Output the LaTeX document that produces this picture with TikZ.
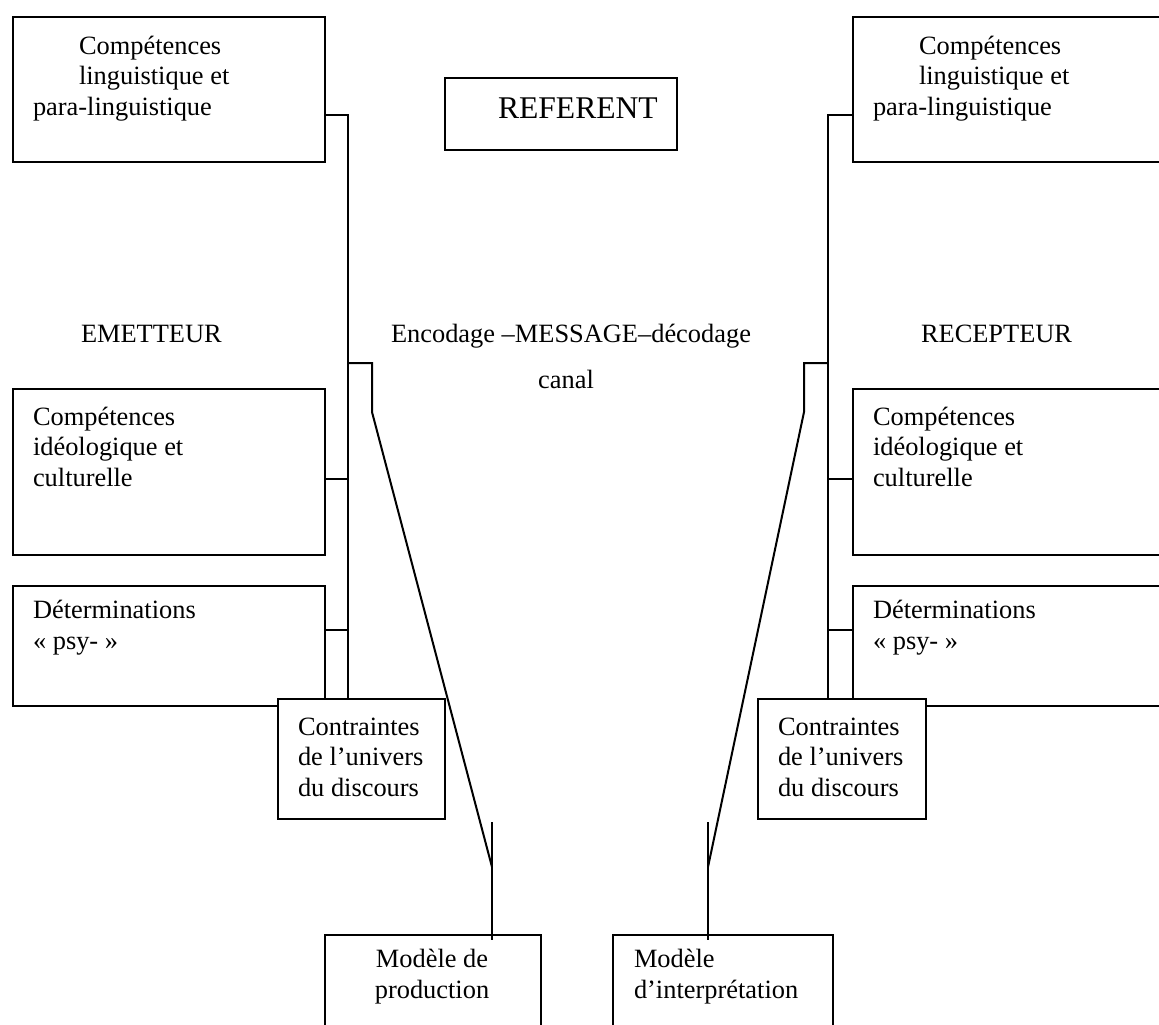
\documentclass[tikz,border=0pt]{standalone}
\usepackage{fontspec}
\setmainfont{Liberation Serif}
\usepackage{tikz}
\usetikzlibrary{calc}

\begin{document}
\begin{tikzpicture}[x=1pt,y=-1pt,line width=2pt]
      \tikzset{cadre/.style={draw,
          fill=white,
          inner sep=0pt,
          anchor=north west},
        texte/.style={inner sep=0pt,
          anchor=base west,
          align=left,
          font=\fontsize{26.4}{30.5}\selectfont}
      }
      \useasboundingbox (0,0) rectangle (1159,1025);
      \clip (0,0) rectangle (1159,1025);

      % emetteur side
      \node [cadre,minimum width=312pt,minimum height=145pt] (compL) at (12,16) {};
      \node [cadre,minimum width=312pt,minimum height=166pt] (ideoL) at (12,388) {};
      \node [cadre,minimum width=312pt,minimum height=120pt] (psyL) at (12,585) {};
      \coordinate (hL) at (348,115);
      \coordinate (bL) at (348,363);
      \coordinate (iL) at (348,479);
      \coordinate (pL) at (348,630);
      \coordinate (kL) at (372,412);
      \coordinate (tL) at (492,867);
      \coordinate (sL) at (492,822);
      \node [cadre,minimum width=167pt,minimum height=120pt] (contrL) at (277,698) {};
      \draw (compL.east |- hL) -- (hL) -- (hL |- contrL.north);
      \draw (ideoL.east |- iL) -- (iL);
      \draw (psyL.east |- pL) -- (pL);
      \draw (bL) -| (kL) -- (tL);

      % recepteur side
      \node [cadre,minimum width=348pt,minimum height=145pt] (compR) at (852,16) {};
      \node [cadre,minimum width=348pt,minimum height=166pt] (ideoR) at (852,388) {};
      \node [cadre,minimum width=348pt,minimum height=120pt] (psyR) at (852,585) {};
      \coordinate (hR) at (828,115);
      \coordinate (bR) at (828,363);
      \coordinate (iR) at (828,479);
      \coordinate (pR) at (828,630);
      \coordinate (kR) at (804,412);
      \coordinate (tR) at (708,867);
      \coordinate (sR) at (708,822);
      \node [cadre,minimum width=168pt,minimum height=120pt] (contrR) at (757,698) {};
      \draw (compR.west |- hR) -- (hR) -- (hR |- contrR.north);
      \draw (ideoR.west |- iR) -- (iR);
      \draw (psyR.west |- pR) -- (pR);
      \draw (bR) -| (kR) -- (tR);

      % referent and models
      \node [cadre,minimum width=232pt,minimum height=72pt] (refer) at (444,77) {};
      \node [cadre,minimum width=216pt,minimum height=120pt] (prod) at (324,934) {};
      \node [cadre,minimum width=220pt,minimum height=120pt] (interp) at (612,934) {};
      \draw (sL) -- (sL |- prod.north) -- ++(0,6);
      \draw (sR) -- (sR |- interp.north) -- ++(0,6);

      % texts (anchored on the baseline of the last line)
      \node [texte] (tcompL) at (32,115) {\hspace*{46pt}Compétences\\\hspace*{46pt}linguistique et\\para-linguistique};
      \node [texte] (tideoL) at (32,486) {Compétences\\idéologique et\\culturelle};
      \node [texte] (tpsyL) at (32,649) {Déterminations\\« psy- »};
      \node [texte] (tcontrL) at (297,796) {Contraintes\\de l’univers\\du discours};
      \node [texte] (tcompR) at (872,115) {\hspace*{46pt}Compétences\\\hspace*{46pt}linguistique et\\para-linguistique};
      \node [texte] (tideoR) at (872,486) {Compétences\\idéologique et\\culturelle};
      \node [texte] (tpsyR) at (872,649) {Déterminations\\« psy- »};
      \node [texte] (tcontrR) at (777,796) {Contraintes\\de l’univers\\du discours};
      \node [texte,font=\fontsize{31.6}{36}\selectfont] (trefer) at (497,118) {REFERENT};
      \node [texte] (emet) at (80,342) {EMETTEUR};
      \node [texte] (recep) at (920,342) {RECEPTEUR};
      \node [texte] (msg) at (390,342) {Encodage –MESSAGE–décodage};
      \node [texte,anchor=base] (canal) at (566,388) {canal};
      \node [texte,anchor=base,align=center] (tprod) at (432,998) {Modèle de\\production};
      \node [texte] (tinterp) at (633,998) {Modèle\\d’interprétation};

\end{tikzpicture}
\end{document}
